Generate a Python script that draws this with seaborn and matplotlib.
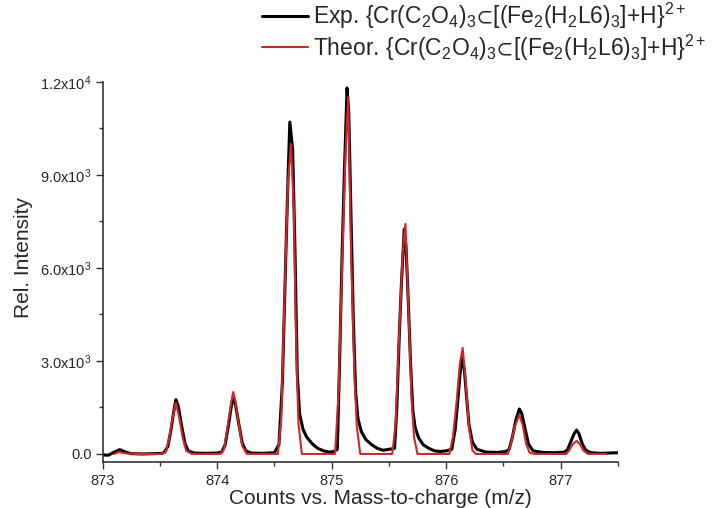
import matplotlib
matplotlib.use("Agg")
import matplotlib.pyplot as plt
import seaborn as sns
import pandas as pd
from matplotlib.ticker import FixedLocator, FixedFormatter, MultipleLocator

# ---- data ----
exp_mz = [873.00, 873.05, 873.10, 873.15, 873.20, 873.25, 873.35, 873.45, 873.52,
          873.54, 873.57, 873.60, 873.62, 873.64, 873.66, 873.69, 873.72, 873.75, 873.80, 873.90, 874.00,
          874.04, 874.07, 874.10, 874.12, 874.14, 874.16, 874.19, 874.22, 874.25, 874.30, 874.40, 874.50,
          874.54, 874.57, 874.60, 874.62, 874.635, 874.66, 874.68, 874.70, 874.72, 874.75, 874.78, 874.83,
          874.88, 874.93, 874.98, 875.02,
          875.05, 875.07, 875.09, 875.11, 875.135, 875.15, 875.17, 875.19, 875.21, 875.23, 875.26, 875.30,
          875.35, 875.40, 875.45, 875.50,
          875.55, 875.57, 875.59, 875.61, 875.635, 875.65, 875.67, 875.69, 875.71, 875.73, 875.76, 875.80,
          875.85, 875.90, 875.95, 876.00,
          876.05, 876.08, 876.10, 876.12, 876.14, 876.16, 876.18, 876.20, 876.23, 876.27, 876.35, 876.45, 876.52,
          876.55, 876.58, 876.61, 876.64, 876.66, 876.69, 876.72, 876.76, 876.85, 876.95, 877.03,
          877.06, 877.09, 877.12, 877.14, 877.16, 877.19, 877.22, 877.27, 877.35, 877.42, 877.50]
exp_int = [-30, -40, 60, 140, 60, 10, 0, 10, 20,
           60, 250, 850, 1350, 1750, 1550, 900, 320, 90, 30, 20, 30,
           60, 300, 950, 1450, 1840, 1600, 950, 350, 100, 30, 20, 40,
           300, 2300, 6400, 9000, 10700, 9800, 6600, 2600, 1300, 800, 560, 330,
           180, 100, 60, 80,
           150, 3000, 6200, 8900, 11800, 11000, 7600, 4300, 2000, 1150, 720, 460,
           300, 180, 120, 150,
           180, 1500, 3700, 5500, 7250, 6700, 4900, 2900, 1400, 850, 520, 300,
           180, 100, 80, 100,
           150, 800, 1600, 2500, 3100, 2700, 1800, 950, 380, 150, 60, 50, 80,
           140, 550, 1100, 1450, 1320, 820, 320, 100, 50, 40, 60,
           130, 400, 660, 770, 660, 330, 120, 40, 20, 30, 40]

theo_mz = [873.10, 873.14, 873.20, 873.30, 873.50,
           873.55, 873.58, 873.61, 873.64, 873.67, 873.70, 873.73, 873.78, 874.03,
           874.06, 874.09, 874.12, 874.14, 874.16, 874.19, 874.22, 874.26, 874.53,
           874.56, 874.59, 874.62, 874.645, 874.67, 874.69, 874.71, 874.74, 875.03,
           875.06, 875.09, 875.12, 875.145, 875.17, 875.20, 875.22, 875.25, 875.53,
           875.56, 875.59, 875.62, 875.645, 875.67, 875.70, 875.72, 875.75, 876.03,
           876.06, 876.09, 876.12, 876.145, 876.17, 876.20, 876.23, 876.26, 876.54,
           876.57, 876.60, 876.64, 876.67, 876.70, 876.73, 876.77, 877.05,
           877.08, 877.11, 877.14, 877.17, 877.20, 877.24, 877.40]
theo_int = [0, 60, 20, 0, 0,
            50, 500, 1150, 1650, 1150, 500, 100, 0, 0,
            150, 850, 1600, 2000, 1700, 950, 250, 0, 0,
            1100, 5200, 8800, 10000, 7900, 3600, 1000, 0, 0,
            1900, 5900, 9600, 11500, 6500, 2500, 900, 0, 0,
            1000, 3800, 6400, 7420, 4800, 1700, 550, 0, 0,
            550, 1600, 2900, 3420, 2400, 850, 120, 0, 0,
            380, 880, 1260, 920, 320, 40, 0, 0,
            140, 330, 420, 310, 110, 0, 0]

x_ticks = [873, 874, 875, 876, 877]
y_ticks = [0, 3000, 6000, 9000, 12000]
y_tick_labels = ["0.0", "3.0x10$^{3}$", "6.0x10$^{3}$", "9.0x10$^{3}$", "1.2x10$^{4}$"]

exp_label = r"Exp. {Cr(C$_{2}$O$_{4}$)$_{3}\!\subset\!$[(Fe$_{2}$(H$_{2}$L6)$_{3}$]+H}$^{2+}$"
theo_label = r"Theor. {Cr(C$_{2}$O$_{4}$)$_{3}\!\subset\!$[(Fe$_{2}$(H$_{2}$L6)$_{3}$]+H}$^{2+}$"

# ---- plot ----
sns.set_style("ticks")
plt.rcParams["font.family"] = ["Liberation Sans", "DejaVu Sans"]
plt.rcParams["mathtext.fontset"] = "custom"
plt.rcParams["mathtext.rm"] = "Liberation Sans"
plt.rcParams["mathtext.it"] = "Liberation Sans:italic"
plt.rcParams["mathtext.bf"] = "Liberation Sans:bold"
plt.rcParams["mathtext.default"] = "rm"
plt.rcParams["mathtext.fallback"] = "stixsans"

fig = plt.figure(figsize=(7.2, 5.08), dpi=100)
ax = fig.add_axes([0.1426, 0.0906, 0.858 - 0.1426, 0.839 - 0.0906])

df_exp = pd.DataFrame({"mz": exp_mz, "intensity": exp_int})
df_theo = pd.DataFrame({"mz": theo_mz, "intensity": theo_int})

sns.lineplot(data=df_exp, x="mz", y="intensity", ax=ax, color="black", lw=2.2,
             label=exp_label, sort=False)
sns.lineplot(data=df_theo, x="mz", y="intensity", ax=ax, color="#d02828", lw=1.5,
             label=theo_label, sort=False)

ax.set_xlim(873, 877.5)
ax.set_ylim(-258, 12000)
ax.xaxis.set_major_locator(FixedLocator(x_ticks))
ax.xaxis.set_minor_locator(MultipleLocator(0.5))
ax.yaxis.set_major_locator(FixedLocator(y_ticks))
ax.yaxis.set_major_formatter(FixedFormatter(y_tick_labels))
ax.yaxis.set_minor_locator(MultipleLocator(1500))
ax.tick_params(axis="both", which="major", length=5, width=1.0, labelsize=10.5, color="#333333")
ax.tick_params(axis="x", which="major", pad=4)
ax.tick_params(axis="y", which="major", pad=3)
ax.tick_params(axis="both", which="minor", length=3, width=1.0, color="#333333")

for s in ["top", "right"]:
    ax.spines[s].set_visible(False)
for s in ["left", "bottom"]:
    ax.spines[s].set_color("#333333")
    ax.spines[s].set_linewidth(1.2)

ax.set_xlabel("Counts vs. Mass-to-charge (m/z)", fontsize=15)
ax.xaxis.set_label_coords(0.54, -0.07)
ax.set_ylabel("Rel. Intensity", fontsize=15)
ax.yaxis.set_label_coords(-0.135, 0.539)

ax.get_legend().remove()
handles, labels = ax.get_legend_handles_labels()
fig.legend(handles, labels, loc="upper right", bbox_to_anchor=(706 / 720, 1 - 1 / 508),
           frameon=False, fontsize=16.5, handlelength=2.0, handletextpad=0.2,
           labelspacing=0.05, borderpad=0, borderaxespad=0)

fig.savefig("out.png", dpi=100)
